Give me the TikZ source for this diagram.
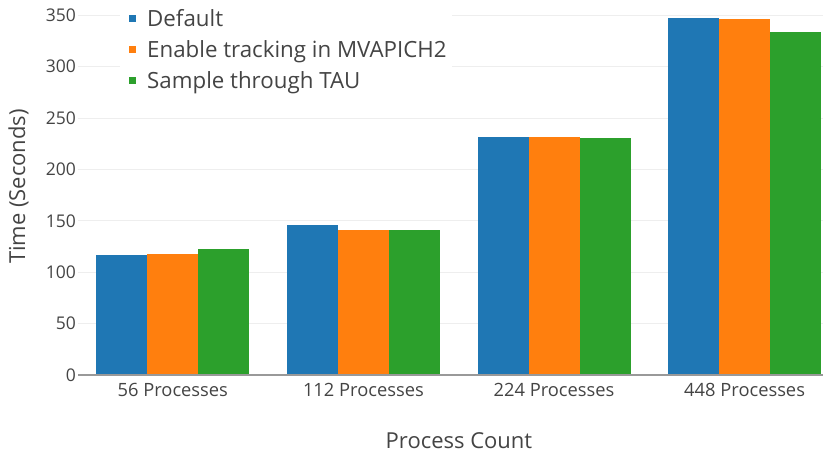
\documentclass[tikz,border=0pt]{standalone}
\usepackage{fontspec}
\setmainfont{Open Sans}
\definecolor{dflt}{HTML}{1F77B4}
\definecolor{trck}{HTML}{FF7F0E}
\definecolor{smpl}{HTML}{2CA02C}
\definecolor{txtgray}{HTML}{444444}
\definecolor{gridgray}{HTML}{EEEEEE}
\definecolor{axgray}{HTML}{999999}
\begin{document}
\begin{tikzpicture}
  [x=1pt,y=-1pt,
   every node/.style={inner sep=0pt,text=txtgray},
   ticklab/.style={font=\fontsize{17.5}{20}\selectfont},
   xticklab/.style={font=\fontsize{18.3}{21}\selectfont,anchor=base},
   leglab/.style={font=\fontsize{22.3}{26}\selectfont,anchor=base west},
   axtitle/.style={font=\fontsize{22}{26}\selectfont,anchor=base},
   legkey/.style={minimum size=7pt}]
  \useasboundingbox (0,0) rectangle (827,455);
  % grid
  \foreach \v in {50,100,...,350}
    \draw[gridgray,line width=1pt] (78,{375-1.0277*\v}) -- (823,{375-1.0277*\v});
  \foreach \v in {0,50,...,350}
    \node[ticklab,anchor=east] (y\v) at (76,{375-1.0277*\v}) {\v};
  % bars
  \foreach \i/\a/\b/\c in {0/116.8/117.7/122.3,1/146/140.8/141.4,
    2/231.9/231.3/230.3,3/347.4/346.7/333.5}
  {
    \pgfmathsetmacro\cx{172.8+190.6*\i}
    \fill[dflt] ({\cx-76.5},375) rectangle ({\cx-25.5},{375-1.0277*\a});
    \fill[trck] ({\cx-25.5},375) rectangle ({\cx+25.5},{375-1.0277*\b});
    \fill[smpl] ({\cx+25.5},375) rectangle ({\cx+76.5},{375-1.0277*\c});
  }
  \draw[axgray,line width=1.2pt] (78,375) -- (823,375);
  \foreach \i/\n in {0/56,1/112,2/224,3/448}
    \node[xticklab] (x\n) at ({172.8+190.6*\i},396) {\n{} Processes};
  % legend
  \fill[white] (120,0) rectangle (452,98);
  \node[legkey,fill=dflt] (k1) at (132.5,18.5) {};
  \node[legkey,fill=trck] (k2) at (132.5,49.5) {};
  \node[legkey,fill=smpl] (k3) at (132.5,80.5) {};
  \node[leglab] (l1) at (147,26.7) {Default};
  \node[leglab] (l2) at (147,57) {Enable tracking in MVAPICH2};
  \node[leglab] (l3) at (147,88) {Sample through TAU};
  % axis titles
  \node[axtitle] (xt) at (459,448.3) {Process Count};
  \node[axtitle,rotate=90] (yt) at (25,186.5) {Time (Seconds)};
\end{tikzpicture}
\end{document}
